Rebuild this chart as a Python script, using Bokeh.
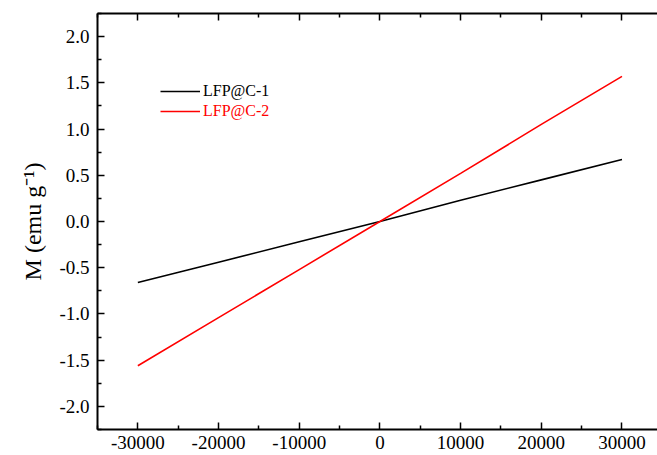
from bokeh.plotting import figure
from bokeh.models import Range1d, LinearAxis, Legend, LegendItem, FixedTicker, PrintfTickFormatter
from bokeh.embed import file_html
from bokeh.resources import INLINE

# Data (field in Oe, magnetization in emu/g)
field = [-30000, -20000, -10000, 0, 10000, 20000, 30000]
m_c1 = [-0.66, -0.44, -0.22, 0.0, 0.23, 0.45, 0.67]
m_c2 = [-1.56, -1.04, -0.52, 0.0, 0.52, 1.05, 1.57]
series_names = ["LFP@C-1", "LFP@C-2"]
x_ticks = [-30000, -20000, -10000, 0, 10000, 20000, 30000]
x_minor = [-35000, -25000, -15000, -5000, 5000, 15000, 25000]
y_ticks = [-2.0, -1.5, -1.0, -0.5, 0.0, 0.5, 1.0, 1.5, 2.0]
y_minor = [-2.25, -1.75, -1.25, -0.75, -0.25, 0.25, 0.75, 1.25, 1.75, 2.25]

FONT = "Liberation Serif"

p = figure(width=657, height=455, output_backend="svg", toolbar_location=None,
           x_range=Range1d(-35000, 34400), y_range=Range1d(-2.25, 2.25),
           min_border_left=97, min_border_right=0, min_border_top=13, min_border_bottom=26)
p.outline_line_color = None
p.xgrid.visible = False
p.ygrid.visible = False
p.background_fill_color = "white"
p.border_fill_color = "white"

r1 = p.line(field, m_c1, line_color="black", line_width=1.6)
r2 = p.line(field, m_c2, line_color="#ff0000", line_width=1.6)

def style_axis(ax, show_labels=True):
    ax.axis_line_width = 2
    ax.axis_line_color = "black"
    ax.major_tick_in = 7
    ax.major_tick_out = 0
    ax.minor_tick_in = 4
    ax.minor_tick_out = 0
    ax.major_tick_line_width = 1.5
    ax.minor_tick_line_width = 1.5
    ax.major_tick_line_color = "black"
    ax.minor_tick_line_color = "black"
    ax.major_label_text_font = FONT
    ax.major_label_text_font_size = "19px"
    ax.major_label_text_color = "black"
    if not show_labels:
        ax.major_label_text_font_size = "0px"
        ax.major_label_text_alpha = 0

xa = p.xaxis[0]
xa.ticker = FixedTicker(ticks=x_ticks, minor_ticks=x_minor)
xa.formatter = PrintfTickFormatter(format="%d")
style_axis(xa)
xa.major_label_standoff = 6

ya = p.yaxis[0]
ya.ticker = FixedTicker(ticks=y_ticks, minor_ticks=y_minor)
ya.formatter = PrintfTickFormatter(format="%.1f")
style_axis(ya)
ya.major_label_standoff = 8
ya.axis_label = "M (emu g\u207b\u00b9)"
ya.axis_label_text_font = FONT
ya.axis_label_text_font_size = "24px"
ya.axis_label_text_font_style = "normal"
ya.axis_label_text_color = "black"
ya.axis_label_standoff = 10

top = LinearAxis(ticker=FixedTicker(ticks=x_ticks, minor_ticks=x_minor))
style_axis(top, show_labels=False)
top.major_label_standoff = 0
p.add_layout(top, "above")

def make_legend(item, color, loc):
    lg = Legend(items=[item], location=loc)
    lg.label_text_font = FONT
    lg.label_text_font_size = "16px"
    lg.label_text_color = color
    lg.glyph_width = 40
    lg.glyph_height = 20
    lg.label_height = 20
    lg.label_standoff = 3
    lg.spacing = 0
    lg.padding = 0
    lg.margin = 0
    lg.border_line_color = None
    lg.background_fill_alpha = 0
    return lg

p.add_layout(make_legend(LegendItem(label=series_names[0], renderers=[r1]), "black", (63, 328)), "center")
p.add_layout(make_legend(LegendItem(label=series_names[1], renderers=[r2]), "#ff0000", (63, 308)), "center")

open("out.html", "w").write(file_html(p, INLINE))
